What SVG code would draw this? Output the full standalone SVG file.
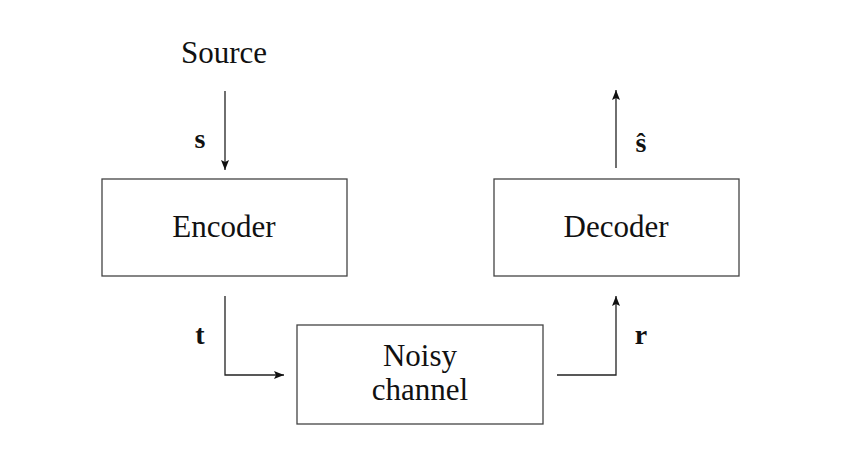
<svg xmlns="http://www.w3.org/2000/svg" width="856" height="468" viewBox="0 0 856 468">
<style>
.box{fill:#fff;stroke:#444;stroke-width:1.3}
.lbl{font-family:"Liberation Serif",serif;font-size:31px;fill:#111;text-anchor:middle}
.var{font-family:"Liberation Serif",serif;font-size:28px;font-weight:bold;fill:#111;text-anchor:middle}
.ln{fill:none;stroke:#222;stroke-width:1.3}
</style>
<defs>
<marker id="ah" viewBox="0 0 10 8" refX="10" refY="4" markerWidth="10" markerHeight="8" markerUnits="userSpaceOnUse" orient="auto">
<path d="M0,0 L10,4 L0,8 L2,4 Z" fill="#111"/>
</marker>
</defs>
<rect width="856" height="468" fill="#fff"/>
<g id="source"><text class="lbl" x="224" y="63">Source</text></g>
<g id="encoder"><rect class="box" x="102" y="179" width="245" height="97"/><text class="lbl" x="224" y="237">Encoder</text></g>
<g id="decoder"><rect class="box" x="494" y="179" width="245" height="97"/><text class="lbl" x="616" y="237">Decoder</text></g>
<g id="channel"><rect class="box" x="297" y="325" width="246" height="99"/><text class="lbl" x="420" y="366">Noisy</text><text class="lbl" x="420" y="400">channel</text></g>
<g id="connectors">
<path class="ln" d="M225,91 V170" marker-end="url(#ah)"/>
<path class="ln" d="M225,296 V375 H284" marker-end="url(#ah)"/>
<path class="ln" d="M557,375 H616 V296" marker-end="url(#ah)"/>
<path class="ln" d="M616,168 V90" marker-end="url(#ah)"/>
<text class="var" x="200" y="148">s</text>
<text class="var" x="200" y="344">t</text>
<text class="var" x="641" y="344">r</text>
<text class="var" x="641" y="152">ŝ</text>
</g>
</svg>
